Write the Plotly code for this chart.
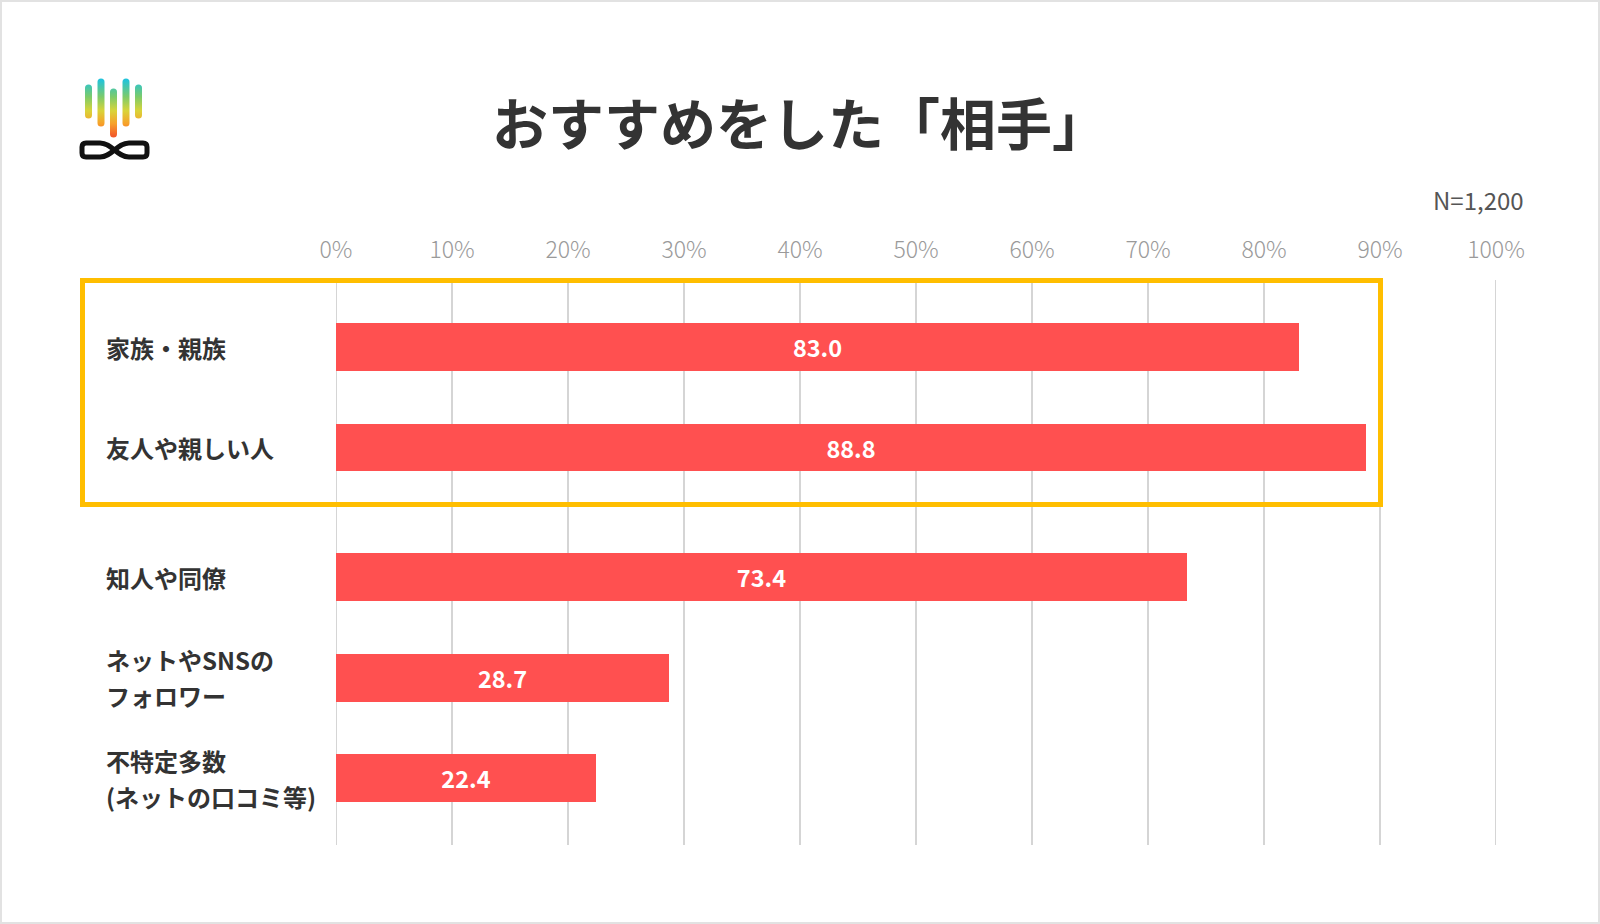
import plotly.graph_objects as go
import urllib.parse

# ---------------- data ----------------
title_text = "おすすめをした「相手」"
sample_note = "N=1,200"
categories = ["家族・親族", "友人や親しい人", "知人や同僚", "ネットやSNSの\nフォロワー", "不特定多数\n(ネットの口コミ等)"]
values = [83.0, 88.8, 73.4, 28.7, 22.4]
groups = [1, 1, 2, 2, 2]          # group 1 is highlighted with the yellow frame
tick_values = [0, 10, 20, 30, 40, 50, 60, 70, 80, 90, 100]
tick_labels = [f"{v}%" for v in tick_values]

# ---------------- layout geometry ----------------
W, H = 1600, 924
L, R, T, B = 336, 1496, 280, 845
FONT = "Noto Sans CJK JP, Noto Sans, sans-serif"
GROUP_GAP = 0.29
UNIT = 100.5          # pixels per category step
FIRST_CENTER = 347    # pixel y of first bar centre


def px(x):
    return (x - L) / (R - L)


def py(y):
    return (B - y) / (B - T)


positions = [i + GROUP_GAP * (g - groups[0]) for i, g in enumerate(groups)]
y_top = (T - FIRST_CENTER) / UNIT
y_bot = (B - FIRST_CENTER) / UNIT

fig = go.Figure()
fig.add_trace(go.Bar(
    x=values,
    y=positions,
    orientation="h",
    width=0.475,
    marker=dict(color="#FF5050", line=dict(width=0)),
    text=[f"{v:.1f}" for v in values],
    textposition="inside",
    insidetextanchor="middle",
    textangle=0,
    textfont=dict(color="white", size=23.5, family=FONT, weight="bold"),
    hoverinfo="skip",
))

annotations = []
# category labels
for cat, pos in zip(categories, positions):
    lines = cat.split("\n")
    n = len(lines)
    for k, line in enumerate(lines):
        annotations.append(dict(
            x=px(104), xref="paper", y=pos, yref="y",
            text=line, showarrow=False, xanchor="left", yanchor="middle",
            yshift=-(k - (n - 1) / 2) * 36,
            font=dict(size=24, color="#333333", family=FONT, weight="bold"),
        ))
# title
annotations.append(dict(
    x=px(800), xref="paper", y=py(121), yref="paper", text=title_text,
    showarrow=False, xanchor="center", yanchor="middle",
    font=dict(size=56, color="#333333", family=FONT, weight="bold"),
))
# sample note
annotations.append(dict(
    x=px(1526), xref="paper", y=py(199), yref="paper", text=sample_note,
    showarrow=False, xanchor="right", yanchor="middle",
    font=dict(size=24, color="#555555", family=FONT),
))

shapes = [
    # outer border of the card
    dict(type="rect", xref="paper", yref="paper",
         x0=px(1), x1=px(1599), y0=py(1), y1=py(923),
         line=dict(color="#e2e2e2", width=2), fillcolor="rgba(0,0,0,0)", layer="below"),
]
# vertical grid lines (one per tick)
for tv in tick_values:
    shapes.append(dict(type="line", xref="x", yref="paper", x0=tv, x1=tv, y0=0, y1=1,
                       line=dict(color="#d5d5d5", width=2), layer="below"))
# highlight frame
shapes.append(dict(type="rect", xref="paper", yref="paper",
                   x0=px(82.5), x1=px(1380.5), y0=py(280.5), y1=py(504.5),
                   line=dict(color="#FFBE00", width=5), fillcolor="rgba(0,0,0,0)", layer="above"))

# logo as inline SVG
logo_svg = (
    "<svg xmlns='http://www.w3.org/2000/svg' width='80' height='90' viewBox='75 75 80 90'>"
    "<defs><linearGradient id='g' gradientUnits='userSpaceOnUse' x1='0' y1='80' x2='0' y2='136'>"
    "<stop offset='0' stop-color='#22C3DA'/><stop offset='0.3' stop-color='#7CCB6A'/>"
    "<stop offset='0.55' stop-color='#D9D43A'/><stop offset='0.78' stop-color='#F7A12A'/>"
    "<stop offset='1' stop-color='#F25A2A'/></linearGradient></defs>"
    "<g stroke='url(#g)' stroke-width='7' stroke-linecap='round'>"
    "<line x1='88.5' y1='88' x2='88.5' y2='115'/>"
    "<line x1='101' y1='82' x2='101' y2='123'/>"
    "<line x1='113.5' y1='92' x2='113.5' y2='134'/>"
    "<line x1='126' y1='82' x2='126' y2='123'/>"
    "<line x1='138.5' y1='88' x2='138.5' y2='115'/>"
    "</g>"
    "<path d='M 86 143 L 100 143 C 112 143 117 157 129 157 L 143 157 Q 147 157 147 153 "
    "L 147 147 Q 147 143 143 143 L 129 143 C 117 143 112 157 100 157 L 86 157 "
    "Q 82 157 82 153 L 82 147 Q 82 143 86 143 Z' fill='none' stroke='#111' stroke-width='5' "
    "stroke-linejoin='round'/>"
    "</svg>"
)
logo_uri = "data:image/svg+xml;charset=utf-8," + urllib.parse.quote(logo_svg)

fig.update_layout(
    width=W, height=H,
    margin=dict(l=L, r=W - R, t=T, b=H - B, pad=0),
    paper_bgcolor="white", plot_bgcolor="white",
    showlegend=False,
    bargap=0,
    font=dict(family=FONT),
    xaxis=dict(
        range=[0, 100], side="top",
        tickmode="array", tickvals=tick_values, ticktext=tick_labels,
        showgrid=False,
        zeroline=False, showline=False, ticks="",
        ticklabelstandoff=16,
        tickfont=dict(size=23, color="#9a9a9a", family=FONT, weight=300),
        fixedrange=True,
    ),
    yaxis=dict(
        range=[y_bot, y_top],
        showgrid=False, zeroline=False, showline=False,
        showticklabels=False, ticks="", fixedrange=True,
    ),
    annotations=annotations,
    shapes=shapes,
    images=[dict(source=logo_uri, xref="paper", yref="paper",
                 x=px(75), y=py(75), sizex=80 / (R - L), sizey=90 / (B - T),
                 xanchor="left", yanchor="top", sizing="stretch", layer="above")],
)

fig.write_html("out.html", config={"displayModeBar": False},
               post_script="document.body.style.margin='0';")
